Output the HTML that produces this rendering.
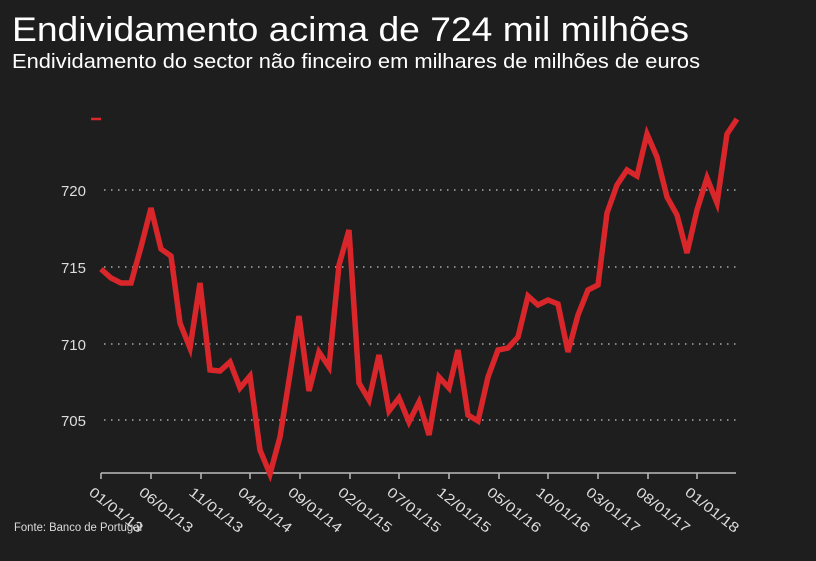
<!DOCTYPE html>
<html><head><meta charset="utf-8"><style>
html,body{margin:0;padding:0;background:#1e1e1e;}
svg{display:block;font-family:"Liberation Sans",sans-serif;}
</style></head><body>
<svg width="816" height="561" viewBox="0 0 816 561">
<rect width="816" height="561" fill="#1e1e1e"/>
<text x="12" y="41" fill="#fff" font-size="34" textLength="677" lengthAdjust="spacingAndGlyphs">Endividamento acima de 724 mil milhões</text>
<text x="12" y="68" fill="#fff" font-size="20" textLength="688" lengthAdjust="spacingAndGlyphs">Endividamento do sector não finceiro em milhares de milhões de euros</text>
<g stroke="#aaa" stroke-width="1.5" stroke-dasharray="1.5 5.5">
<line x1="104" y1="190" x2="736" y2="190"/>
<line x1="104" y1="267" x2="736" y2="267"/>
<line x1="104" y1="344" x2="736" y2="344"/>
<line x1="104" y1="420" x2="736" y2="420"/>
</g>
<line x1="91" y1="119" x2="101" y2="119" stroke="#d9262a" stroke-width="2.5"/>
<g fill="#ddd" font-size="15" text-anchor="end">
<text x="86" y="196">720</text><text x="86" y="273">715</text><text x="86" y="350">710</text><text x="86" y="426">705</text>
</g>
<g stroke="#bbb" stroke-width="1.5">
<line x1="101" y1="473" x2="736" y2="473"/>
<line x1="101" y1="473" x2="101" y2="479"/><line x1="151" y1="473" x2="151" y2="479"/><line x1="201" y1="473" x2="201" y2="479"/><line x1="250" y1="473" x2="250" y2="479"/><line x1="300" y1="473" x2="300" y2="479"/><line x1="350" y1="473" x2="350" y2="479"/><line x1="399" y1="473" x2="399" y2="479"/><line x1="449" y1="473" x2="449" y2="479"/><line x1="499" y1="473" x2="499" y2="479"/><line x1="548" y1="473" x2="548" y2="479"/><line x1="598" y1="473" x2="598" y2="479"/><line x1="648" y1="473" x2="648" y2="479"/><line x1="697" y1="473" x2="697" y2="479"/>
</g>
<g fill="#ddd" font-size="14">
<text transform="translate(88,494) rotate(38)" textLength="64" lengthAdjust="spacingAndGlyphs">01/01/13</text>
<text transform="translate(138,494) rotate(38)" textLength="64" lengthAdjust="spacingAndGlyphs">06/01/13</text>
<text transform="translate(188,494) rotate(38)" textLength="64" lengthAdjust="spacingAndGlyphs">11/01/13</text>
<text transform="translate(237,494) rotate(38)" textLength="64" lengthAdjust="spacingAndGlyphs">04/01/14</text>
<text transform="translate(287,494) rotate(38)" textLength="64" lengthAdjust="spacingAndGlyphs">09/01/14</text>
<text transform="translate(337,494) rotate(38)" textLength="64" lengthAdjust="spacingAndGlyphs">02/01/15</text>
<text transform="translate(386,494) rotate(38)" textLength="64" lengthAdjust="spacingAndGlyphs">07/01/15</text>
<text transform="translate(436,494) rotate(38)" textLength="64" lengthAdjust="spacingAndGlyphs">12/01/15</text>
<text transform="translate(486,494) rotate(38)" textLength="64" lengthAdjust="spacingAndGlyphs">05/01/16</text>
<text transform="translate(535,494) rotate(38)" textLength="64" lengthAdjust="spacingAndGlyphs">10/01/16</text>
<text transform="translate(585,494) rotate(38)" textLength="64" lengthAdjust="spacingAndGlyphs">03/01/17</text>
<text transform="translate(635,494) rotate(38)" textLength="64" lengthAdjust="spacingAndGlyphs">08/01/17</text>
<text transform="translate(684,494) rotate(38)" textLength="64" lengthAdjust="spacingAndGlyphs">01/01/18</text>
</g>
<text x="14" y="531" fill="#ddd" font-size="11.5" textLength="128" lengthAdjust="spacingAndGlyphs">Fonte: Banco de Portugal</text>
<polyline fill="none" stroke="#d9262a" stroke-width="5.5" stroke-linejoin="miter" points="101,269 111,278 121,283 131,283 141,247 151,208 161,249 171,256 180,323 190,348 200,283 210,370 220,371 230,362 240,388 250,376 260,450 270,474 280,437 290,374 299,316 309,391 319,352 329,367 339,265 349,230 359,383 369,400 379,355 389,411 399,398 409,422 419,402 429,435 439,377 449,388 458,350 468,415 478,421 488,377 498,350 508,348 518,337 528,296 538,305 548,300 558,304 568,352 578,315 588,290 598,285 607,213 617,185 627,170 637,176 647,134 657,157 667,197 677,215 687,253 697,210 707,178 717,203 727,134 737,119"/>
</svg>
</body></html>
